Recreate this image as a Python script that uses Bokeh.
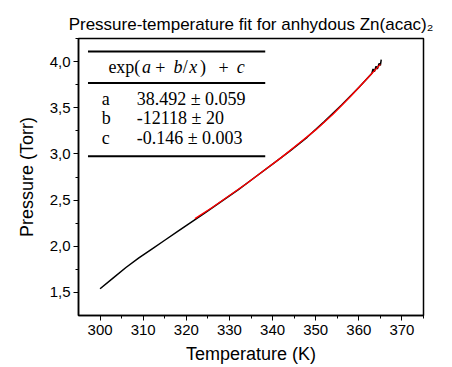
from bokeh.plotting import figure
from bokeh.embed import file_html
from bokeh.resources import INLINE
from bokeh.models import FixedTicker, Label, Range1d

# measured data (black)
temp_data = [300, 303, 306, 309, 312, 315, 318, 321, 324, 328, 332, 336, 340, 344, 348,
             352, 356, 360, 363, 363.3, 363.6, 364.0, 364.3, 364.7, 365.0, 365.2]
pres_data = [1.54, 1.655, 1.77, 1.875, 1.97, 2.065, 2.16, 2.255, 2.35, 2.48, 2.61, 2.75, 2.89, 3.03, 3.18,
             3.35, 3.53, 3.72, 3.87, 3.92, 3.89, 3.95, 3.92, 3.98, 3.96, 4.02]
# fit (red)
temp_fit = [322, 326, 330, 334, 338, 342, 346, 350, 354, 358, 362, 365]
pres_fit = [2.30, 2.42, 2.55, 2.68, 2.82, 2.96, 3.11, 3.26, 3.43, 3.62, 3.82, 3.97]

x_ticks = [300, 310, 320, 330, 340, 350, 360, 370]
y_ticks = [1.5, 2.0, 2.5, 3.0, 3.5, 4.0]
y_tick_labels = ["1,5", "2,0", "2,5", "3,0", "3,5", "4,0"]

title_text = "Pressure-temperature fit for anhydous Zn(acac)\u2082"
x_label = "Temperature (K)"
y_label = "Pressure (Torr)"
param_names = ["a", "b", "c"]
param_values = ["38.492 \u00b1 0.059", "-12118 \u00b1 20", "-0.146 \u00b1 0.003"]

SANS = "Liberation Sans"
SERIF = "Liberation Serif"

p = figure(width=452, height=367, output_backend="svg", toolbar_location=None,
           x_range=Range1d(295, 375), y_range=Range1d(1.25, 4.25),
           title=title_text, min_border_left=78, min_border_right=29,
           min_border_top=38, min_border_bottom=52)

p.title.text_font = SANS
p.title.text_font_size = "17px"
p.title.text_font_style = "normal"
p.title.text_color = "black"
p.title.align = "center"
p.title.offset = 0

p.grid.visible = False
p.background_fill_color = "white"
p.border_fill_color = "white"
p.outline_line_color = "black"
p.outline_line_width = 1.5

for ax in (p.xaxis[0], p.yaxis[0]):
    ax.axis_line_width = 1.5
    ax.axis_line_color = "black"
    ax.major_tick_line_color = "black"
    ax.minor_tick_line_color = "black"
    ax.major_tick_in = 0
    ax.major_tick_out = 5
    ax.minor_tick_in = 0
    ax.minor_tick_out = 3
    ax.major_label_text_font = SANS
    ax.major_label_text_font_size = "15px"
    ax.major_label_text_color = "black"
    ax.axis_label_text_font = SANS
    ax.axis_label_text_font_size = "18px"
    ax.axis_label_text_font_style = "normal"
    ax.axis_label_text_color = "black"

p.xaxis.ticker = FixedTicker(ticks=x_ticks, minor_ticks=[x + 5 for x in [295] + x_ticks])
p.yaxis.ticker = FixedTicker(ticks=y_ticks, minor_ticks=[y + 0.25 for y in [1.25] + y_ticks])
p.yaxis.major_label_overrides = {t: l for t, l in zip(y_ticks, y_tick_labels)}
p.xaxis.axis_label = x_label
p.yaxis.axis_label = y_label
p.xaxis.major_label_standoff = 4
p.xaxis.axis_label_standoff = 6
p.yaxis.major_label_standoff = 3
p.yaxis.axis_label_standoff = 10

p.line(temp_data, pres_data, line_color="black", line_width=1.5)
p.line(temp_fit, pres_fit, line_color="#ff0000", line_width=1.4)

# inset table (rules and text)
rule_x0, rule_x1 = 297.2, 338.3
for ry in (4.109, 3.769, 2.976):
    p.line([rule_x0, rule_x1], [ry, ry], line_color="black", line_width=2)

hdr_y = 3.937
parts = [("exp(", "normal", 301.93), ("a", "italic", 309.7), ("+", "normal", 312.8),
         ("b", "italic", 317.0), ("/", "normal", 319.2), ("x", "italic", 320.7),
         (")", "normal", 323.2), ("+", "normal", 327.45), ("c", "italic", 331.7)]
for txt, style, xp in parts:
    p.add_layout(Label(x=xp, y=hdr_y, text=txt, text_font=SERIF, text_font_size="18px",
                       text_font_style=style, text_baseline="middle", text_color="black"))

row_ys = [3.597, 3.392, 3.167]
for nm, val, ry in zip(param_names, param_values, row_ys):
    p.add_layout(Label(x=300.4, y=ry, text=nm, text_font=SERIF, text_font_size="18px",
                       text_baseline="middle", text_color="black"))
    p.add_layout(Label(x=308.5, y=ry, text=val, text_font=SERIF, text_font_size="18px",
                       text_baseline="middle", text_color="black"))

open("out.html", "w").write(file_html(p, INLINE))
